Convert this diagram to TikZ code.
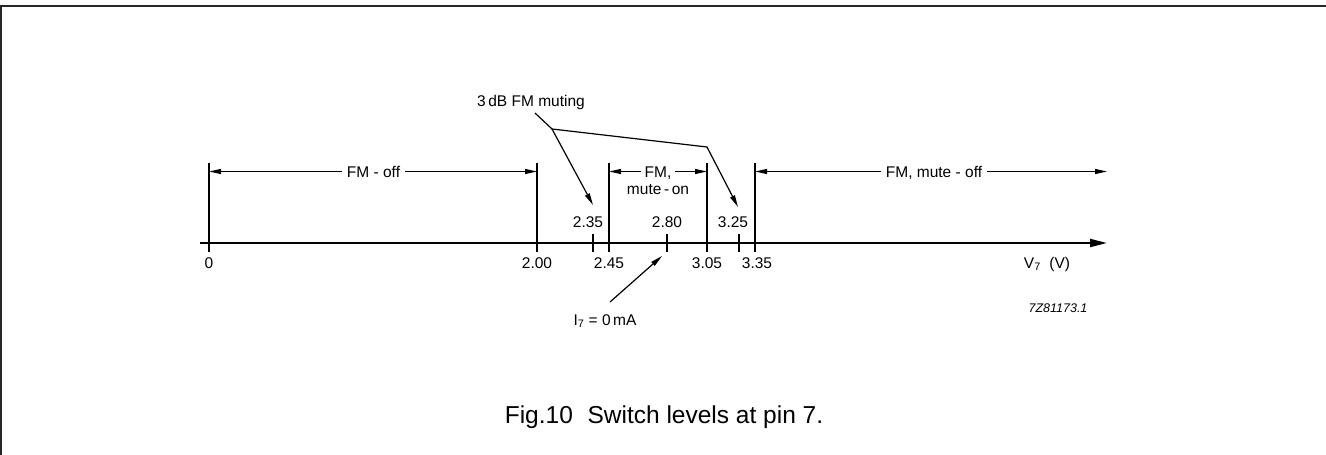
\documentclass[tikz,border=0pt]{standalone}
\usepackage{fontspec}
\setmainfont{Liberation Sans}
\usetikzlibrary{arrows.meta}
\begin{document}
\begin{tikzpicture}[x=1pt,y=-1pt,
  lbl/.style={inner xsep=5pt, inner ysep=0pt, text height=11pt, text depth=0pt, font=\fontsize{15.5}{18}\selectfont},
  frameline/.style={line width=2pt, black!85},
  axisline/.style={line width=2pt, -{Triangle[length=17pt,width=8pt]}},
  tickline/.style={line width=2pt},
  extline/.style={line width=1.1pt},
  dimline/.style={line width=1.2pt, -{Triangle[length=12pt,width=5pt]}},
  leadline/.style={line width=1.2pt, -{Triangle[length=12pt,width=5pt]}},
  plainlead/.style={line width=1.2pt}]
\useasboundingbox (0,0) rectangle (1326,455);
% frame (top and left only)
\coordinate (fTL) at (1,6);
\coordinate (fTR) at (1326,6);
\coordinate (fBL) at (1,455);
\draw[frameline] (fBL) -- (fTL) -- (fTR);

% axis
\coordinate (ax0) at (200,243);
\coordinate (axE) at (1107,243);
\draw[axisline] (ax0) -- (axE);

% ticks
\foreach \x/\n in {209/t0,537/tA,593/tB,609/tC,667/tD,707/tE,739/tF,755/tG}{
  \coordinate (\n) at (\x,243);
  \coordinate (\n u) at (\x,234);
  \coordinate (\n d) at (\x,252);
  \draw[tickline] (\n u) -- (\n d);
}
% extension lines
\foreach \x/\n in {209/t0,537/tA,609/tC,707/tE,755/tG}{
  \coordinate (\n x) at (\x,163);
  \draw[extline] (\n x) -- (\n);
}

% lower labels
\node[lbl] (l0)  at (209,262.5) {0};
\node[lbl] (lA)  at (537,262.5) {2.00};
\node[lbl] (lC)  at (609,262.5) {2.45};
\node[lbl] (lE)  at (707,262.5) {3.05};
\node[lbl] (lG)  at (757,262.5) {3.35};
% upper labels
\node[lbl] (uB)  at (588,221.5) {2.35};
\node[lbl] (uD)  at (667,221.5) {2.80};
\node[lbl] (uF)  at (733,221.5) {3.25};

% axis label
\node[lbl, anchor=base] (vlab) at (1047,268) {V\textsubscript{7}\ \ (V)};
\node[inner sep=0pt, anchor=base, font=\fontsize{12.5}{14}\selectfont\itshape] (code) at (1058,312) {7Z81173.1};

% dimension: FM-off
\node[lbl] (fmoff) at (373.5,171.5) {FM - off};
\draw[dimline] (fmoff.west) -- (fmoff.west -| t0x);
\draw[dimline] (fmoff.east) -- (fmoff.east -| tAx);

% dimension: FM, mute-on
\node[lbl, inner xsep=3pt] (fmc) at (658,171.5) {FM,};
\node[lbl] (muteon) at (658,189) {mute\,-\,on};
\draw[dimline] (fmc.west) -- (fmc.west -| tCx);
\draw[dimline] (fmc.east) -- (fmc.east -| tEx);

% dimension: FM, mute-off
\node[lbl] (fmmo) at (934,171.5) {FM, mute - off};
\coordinate (rEnd) at (1107,171.5);
\draw[dimline] (fmmo.west) -- (fmmo.west -| tGx);
\draw[dimline] (fmmo.east) -- (rEnd);

% 3 dB FM muting
\node[lbl, inner xsep=0pt, anchor=base east] (mut) at (585,106) {3\,dB FM muting};
\coordinate (ls) at (535,113);
\coordinate (k1) at (552,129);
\coordinate (k2) at (707,147);
\coordinate (a1) at (593,205);
\coordinate (a2) at (738,207);
\draw[plainlead] (ls) -- (k1);
\draw[leadline] (k1) -- (a1);
\draw[leadline] (k1) -- (k2) -- (a2);

% I7 = 0 mA
\node[lbl, inner xsep=0pt, anchor=base] (i7) at (605,325) {I\textsubscript{7} = 0\,mA};
\coordinate (i7s) at (610,302);
\coordinate (i7e) at (662,256);
\draw[leadline] (i7s) -- (i7e);

% caption
\node[inner sep=0pt, anchor=base, font=\fontsize{24.5}{28}\selectfont] (cap) at (664,423) {Fig.10\hspace{0.6em}Switch levels at pin 7.};
\end{tikzpicture}
\end{document}
